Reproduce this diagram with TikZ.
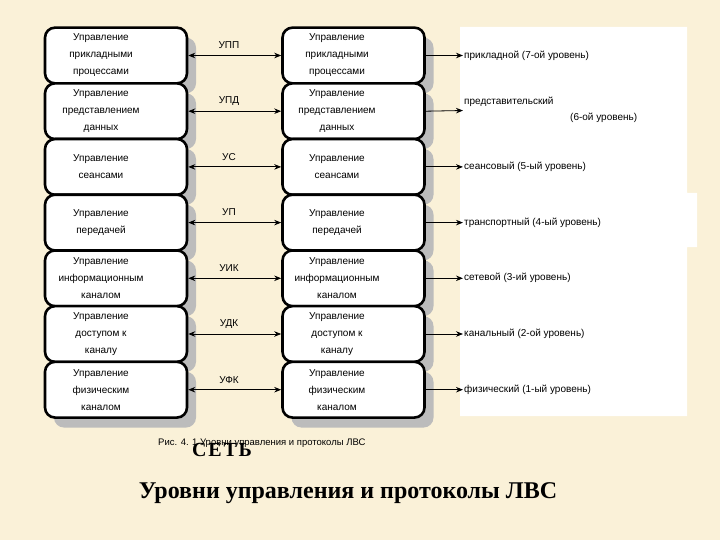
\documentclass[tikz,border=0pt]{standalone}
\usepackage{fontspec}
\setmainfont{Liberation Sans}
\newfontfamily\serifbf{Liberation Serif}
\newfontfamily\serifwide[LetterSpace=9]{Liberation Serif}
\usetikzlibrary{arrows.meta,shadows}
\definecolor{bg}{RGB}{250,241,216}
\definecolor{shade}{RGB}{188,188,188}
\begin{document}
\begin{tikzpicture}[x=1pt,y=-1pt,
  box/.style={draw=black, line width=2.6pt, rounded corners=10pt, fill=white,
    minimum width=142pt, minimum height=55.7pt, inner sep=0pt,
    drop shadow={shadow xshift=9pt, shadow yshift=-10pt, fill=shade, opacity=1}},
  boxtext/.style={align=center, font=\fontsize{10}{17}\selectfont, inner sep=0pt},
  lbl/.style={font=\fontsize{10}{12}\selectfont, inner sep=1pt},
  tip/.tip={Stealth[length=7pt,width=5.5pt]},
  arr/.style={line width=0.8pt, -tip},
  darr/.style={line width=0.8pt, tip-tip}
]
\useasboundingbox (0,0) rectangle (720,540);
\fill[bg] (0,0) rectangle (720,540);
% white panel behind the level names
\fill[white] (460,27) -- (687,27) -- (687,193) -- (697,193) -- (697,247) -- (687,247) -- (687,416) -- (460,416) -- cycle;

\foreach \i/\t/\m in {
  1/{Управление\\прикладными\\процессами}/УПП,
  2/{Управление\\представлением\\данных}/УПД,
  3/{Управление\\сеансами}/УС,
  4/{Управление\\передачей}/УП,
  5/{Управление\\информационным\\каналом}/УИК,
  6/{Управление\\доступом к\\каналу}/УДК,
  7/{Управление\\физическим\\каналом}/УФК}{
  \pgfmathsetmacro\yc{55.5+55.7*(\i-1)}
  \node[box] (L\i) at (116,\yc) {};
  \node[boxtext] (Lt\i) at (101,\yc) {\t};
  \node[box] (R\i) at (353.5,\yc) {};
  \node[boxtext] (Rt\i) at (337,\yc) {\t};
  \draw[darr] (R\i.west) -- (L\i.east);
  \node[lbl] (M\i) at (229,\yc-10) {\m};
}

\foreach \i/\r in {1/{прикладной (7-ой уровень)}, 3/{сеансовый (5-ый уровень)},
  4/{транспортный (4-ый уровень)}, 5/{сетевой (3-ий уровень)},
  6/{канальный (2-ой уровень)}, 7/{физический (1-ый уровень)}}{
  \pgfmathsetmacro\yc{55.5+55.7*(\i-1)}
  \node[lbl, anchor=west] (T\i) at (463,\yc) {\r};
  \draw[arr] (R\i.east) -- (T\i.west);
}
\coordinate (t2) at (463,110.5);
\node[lbl, anchor=west] (T2) at (463,102) {представительский};
\node[lbl, anchor=west] (T2b) at (569,118) {(6-ой уровень)};
\draw[arr] (R2.east) -- (t2);

\node[anchor=base west, inner sep=0pt, font=\fontsize{9.5}{11}\selectfont] (cap) at (158,445) {Рис. 4. 1 Уровни управления и протоколы ЛВС};
\node[anchor=base west, inner sep=0pt, font=\serifwide\bfseries\fontsize{20}{22}\selectfont] (net) at (192,456) {СЕТЬ};
\node[anchor=base, inner sep=0pt, font=\serifbf\bfseries\fontsize{24}{28}\selectfont] (title) at (348,498) {Уровни управления и протоколы ЛВС};
\end{tikzpicture}
\end{document}
